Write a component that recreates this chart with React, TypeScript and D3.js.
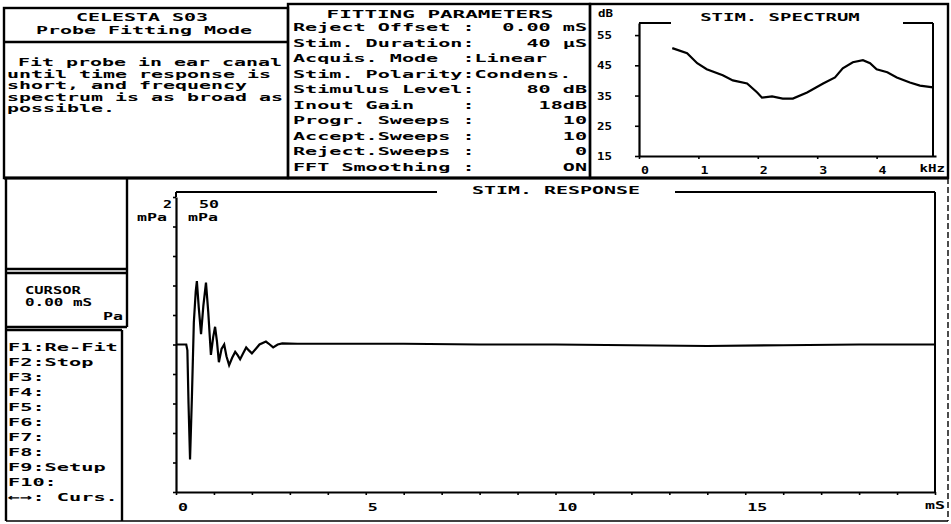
import React, { useRef, useEffect } from 'react';
import * as d3 from 'd3';

// stim spectrum (kHz / dB)
const specFreq = [0.56, 0.81, 0.98, 1.14, 1.41, 1.58, 1.82, 1.99, 2.07, 2.24, 2.42, 2.59, 2.83, 3.1, 3.3, 3.43, 3.6, 3.77, 3.89, 4.0, 4.18, 4.34, 4.56, 4.73, 4.95];
const specDb = [50.7, 49, 45.7, 43.7, 41.7, 40, 39, 36, 34.3, 34.7, 34, 34, 36, 39, 41, 44, 46, 46.7, 45.7, 43.7, 42.7, 41, 39.3, 38.3, 37.7];
const specYTicks = [15, 25, 35, 45, 55];
const specXTicks = [0, 1, 2, 3, 4];

// stim response (ms / mPa)
const respTime = [0, 0.27, 0.3, 0.33, 0.37, 0.42, 0.47, 0.52, 0.55, 0.6, 0.66, 0.72, 0.79, 0.85, 0.92, 0.98, 1.03, 1.08, 1.13, 1.2, 1.27, 1.33, 1.4, 1.48, 1.56, 1.62, 1.69, 1.77, 1.85, 1.92, 2.0, 2.1, 2.2, 2.37, 2.47, 2.56, 2.68, 2.8, 3.2, 4, 6, 8, 10, 12, 14, 16, 18, 20];
const respVal = [0, 0, -0.4, -4, -7.8, -3.5, 1.5, 3.6, 4.3, 2.5, 0.7, 2.6, 4.2, 2.2, -0.7, 0.5, 1.2, 0.2, -1.2, -0.3, 0, -0.8, -1.4, -0.9, -0.5, -0.7, -1.0, -0.6, -0.2, -0.4, -0.6, -0.3, 0, 0.2, 0, -0.2, 0, 0.07, 0.05, 0.05, 0.05, 0, 0, -0.05, -0.1, -0.05, 0, 0];
const respXTicks = [0, 5, 10, 15];

const infoLines = ['Fit probe in ear canal', 'until time response is', 'short, and frequency', 'spectrum is as broad as', 'possible.'];
const paramLabels = ['Reject Offset', 'Stim. Duration', 'Acquis. Mode', 'Stim. Polarity', 'Stimulus Level', 'Inout Gain', 'Progr. Sweeps', 'Accept.Sweeps', 'Reject.Sweeps', 'FFT Smoothing'];
const paramValues = ['0.00 mS', '40 µS', 'Linear', 'Condens.', '80 dB', '18dB', '10', '10', '0', 'ON'];
const fKeys = ['F1:Re-Fit', 'F2:Stop', 'F3:', 'F4:', 'F5:', 'F6:', 'F7:', 'F8:', 'F9:Setup', 'F10:', '←→: Curs.'];

const FONT = '"DejaVu Sans Mono", monospace';

function T({ x, y, s, cw = 12, anchor = 'start', size = 11 }) {
  return (
    <text x={x} y={y} textAnchor={anchor} fontSize={size} fontWeight="bold"
      textLength={s.length * cw} lengthAdjust="spacingAndGlyphs">{s}</text>
  );
}

export default function App() {
  const specLeft = useRef(null);
  const specBottom = useRef(null);
  const respLeft = useRef(null);
  const respBottom = useRef(null);

  const specX = d3.scaleLinear().domain([0, 5]).range([639, 936]);
  const specY = d3.scaleLinear().domain([15, 59]).range([156, 23]);
  const respX = d3.scaleLinear().domain([0, 20]).range([176, 935]);
  const respY = d3.scaleLinear().domain([-10, 10]).range([492, 197]);

  const specLine = d3.line().x((d, i) => specX(specFreq[i])).y(d => specY(d));
  const respLine = d3.line().x((d, i) => respX(respTime[i])).y(d => respY(d));

  useEffect(() => {
    const style = g => {
      g.selectAll('.domain').attr('stroke-width', 2.2);
      g.selectAll('.tick line').attr('stroke-width', 1.6);
      g.selectAll('.tick text').remove();
    };
    d3.select(specLeft.current).call(d3.axisLeft(specY).tickValues(specYTicks).tickSize(4).tickSizeOuter(0)).call(style);
    d3.select(specBottom.current).call(d3.axisBottom(specX).tickValues(specXTicks).tickSize(3).tickSizeOuter(0)).call(style);
    d3.select(respLeft.current).call(d3.axisLeft(respY).tickValues(d3.range(-10, 11, 2)).tickSize(3).tickSizeOuter(0)).call(style);
    d3.select(respBottom.current).call(d3.axisBottom(respX).ticks(20).tickSize(3).tickSizeOuter(0)).call(style);
  }, []);

  const sy0 = specY.range()[1];
  const rTop = 192;
  const pcw = 12.1;

  return (
    <svg width={951} height={524} style={{ position: 'absolute', left: 0, top: 0, background: '#fff' }}
      fontFamily={FONT}>
      <rect width={951} height={524} fill="#fff" />
      <g fill="none" stroke="#000" strokeWidth={2.4}>
        {/* top panels */}
        <rect x={4} y={8} width={284} height={170} />
        <line x1={4} y1={42} x2={288} y2={42} />
        <rect x={288} y={4} width={302} height={174} />
        <rect x={590} y={4} width={358} height={174} />
        {/* bottom region */}
        <line x1={4} y1={178} x2={948} y2={178} strokeWidth={3} />
        <line x1={6} y1={178} x2={6} y2={521} />
        <line x1={6} y1={521} x2={948} y2={521} strokeWidth={1.6} />
        <line x1={948} y1={178} x2={948} y2={521} strokeWidth={1.4} strokeDasharray="6 3" />
        <line x1={6} y1={269} x2={127} y2={269} />
        <line x1={6} y1={273} x2={127} y2={273} />
        <line x1={127} y1={178} x2={127} y2={327} />
        <line x1={6} y1={327} x2={127} y2={327} />
        <line x1={6} y1={330} x2={122} y2={330} />
        <line x1={122} y1={330} x2={122} y2={521} />
        {/* spectrum frame */}
        <line x1={specX(0)} y1={sy0} x2={671} y2={sy0} strokeWidth={2} />
        <line x1={903} y1={sy0} x2={specX.range()[1] - 3} y2={sy0} strokeWidth={2} />
        <line x1={specX.range()[1] - 3} y1={sy0} x2={specX.range()[1] - 3} y2={specY(15)} strokeWidth={2} />
        {/* response frame */}
        <line x1={respX(0)} y1={rTop} x2={437} y2={rTop} strokeWidth={2} />
        <line x1={675} y1={rTop} x2={respX(20)} y2={rTop} strokeWidth={2} />
        <line x1={respX(20)} y1={rTop} x2={respX(20)} y2={respY(-10)} strokeWidth={2} />
        <line x1={respX(0)} y1={rTop} x2={respX(0)} y2={respY(10)} strokeWidth={2} />
      </g>

      <g ref={specLeft} transform={`translate(${specX(0)},0)`} />
      <g ref={specBottom} transform={`translate(0,${specY(15)})`} />
      <g ref={respLeft} transform={`translate(${respX(0)},0)`} />
      <g ref={respBottom} transform={`translate(0,${respY(-10)})`} />

      <path d={specLine(specDb) || ''} fill="none" stroke="#000" strokeWidth={2.2} />
      <path d={respLine(respVal) || ''} fill="none" stroke="#000" strokeWidth={2.2} />

      <g fill="#000">
        <T x={142} y={21} s="CELESTA S03" anchor="middle" />
        <T x={144} y={34} s="Probe Fitting Mode" anchor="middle" />
        {infoLines.map((s, i) => (
          <T key={s} x={i === 0 ? 18 : 7} y={66 + i * 11.6} s={s} />
        ))}

        <T x={440} y={18} s="FITTING PARAMETERS" anchor="middle" cw={12.6} />
        {paramLabels.map((s, i) => (
          <g key={s}>
            <T x={293} y={31 + i * 15.5} s={s} cw={pcw} />
            <T x={293 + 14 * pcw} y={31 + i * 15.5} s=":" cw={pcw} />
          </g>
        ))}
        {paramValues.map((s, i) => {
          const left = i === 2 || i === 3;
          return <T key={i} x={left ? 293 + 15 * pcw : 587} y={31 + i * 15.5} s={s} cw={pcw} anchor={left ? 'start' : 'end'} />;
        })}

        <T x={780} y={21} s="STIM. SPECTRUM" anchor="middle" cw={11.4} />
        <T x={598} y={17} s="dB" cw={7.5} size={10} />
        {specYTicks.map(v => (
          <T key={v} x={597} y={specY(v) + 4} s={String(v)} cw={7.5} size={10.5} />
        ))}
        {specXTicks.map(v => (
          <T key={v} x={specX(v) + 2} y={174} s={String(v)} cw={8} size={10.5} />
        ))}
        <T x={945} y={172} s="kHz" cw={8.5} size={10} anchor="end" />

        <T x={556} y={194} s="STIM. RESPONSE" anchor="middle" cw={12} />
        <T x={163} y={208} s="2" cw={9} size={10.5} />
        <T x={137} y={221} s="mPa" cw={10} size={10} />
        <T x={199} y={208} s="50" cw={10} size={10.5} />
        <T x={188} y={221} s="mPa" cw={10} size={10} />
        {respXTicks.map(v => (
          <T key={v} x={respX(v) + 2} y={511} s={String(v)} cw={10} size={10.5} />
        ))}
        <T x={945} y={509} s="mS" cw={10} size={10.5} anchor="end" />

        <T x={25} y={294} s="CURSOR" cw={9.3} size={10.5} />
        <T x={25} y={306} s="0.00 mS" cw={9.6} size={10.5} />
        <T x={123} y={320} s="Pa" cw={10} size={10.5} anchor="end" />
        {fKeys.map((s, i) => (
          <T key={s} x={8} y={351 + i * 15} s={s} cw={12.2} />
        ))}
      </g>
    </svg>
  );
}
